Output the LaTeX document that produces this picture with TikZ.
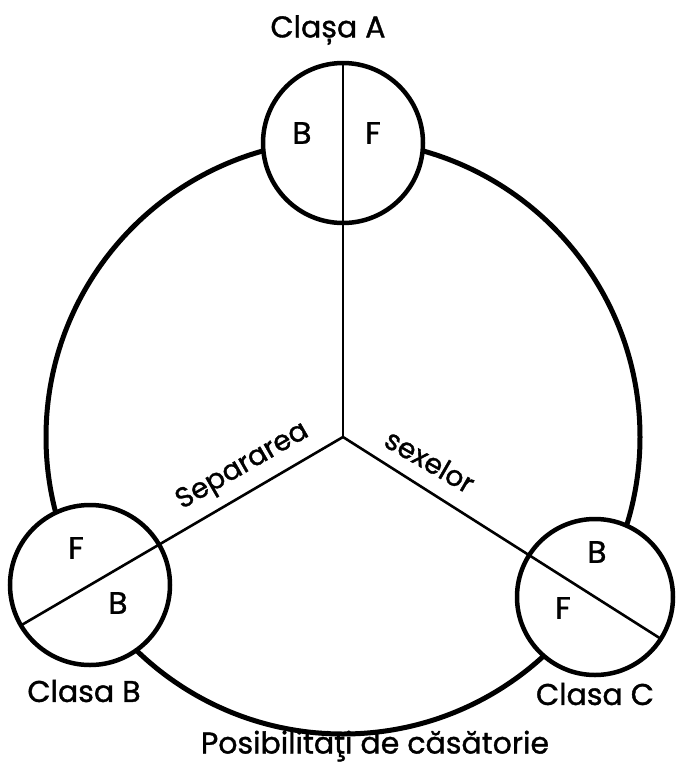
\documentclass[tikz,border=0pt]{standalone}
\usepackage{fontspec}
\setmainfont{Poppins}[FakeBold=1.2]
\usetikzlibrary{calc}
\begin{document}
\begin{tikzpicture}[x=1pt,y=-1pt,
  bigring/.style={line width=5pt},
  smallring/.style={line width=4.5pt, fill=white},
  divider/.style={line width=2.6pt},
  lbl/.style={font=\fontsize{30}{32}\selectfont, inner sep=0pt},
  sym/.style={font=\fontsize{31}{33}\selectfont, inner sep=0pt}]
\useasboundingbox (0,0) rectangle (678,764);
\fill[white] (0,0) rectangle (678,764);
\coordinate (o) at (343,437);
\coordinate (ac) at (343,143);
\coordinate (bc) at (90,585);
\coordinate (cc) at (595,597);
% big circle
\draw[bigring] (o) circle[radius=297];
% small circles
\draw[smallring] (ac) circle[radius=80];
\draw[smallring] (bc) circle[radius=80];
\draw[smallring] (cc) circle[radius=78];
% dividers
\coordinate (aend) at ($(ac)!-80pt!(o)$);
\coordinate (bend) at ($(bc)!-80pt!(o)$);
\coordinate (cend) at ($(cc)!-78pt!(o)$);
\draw[divider] (o) -- (aend);
\draw[divider] (o) -- (bend);
\draw[divider] (o) -- (cend);
% letters
\node[sym] (ab) at (302,133) {B};
\node[sym] (af) at (373,133) {F};
\node[sym] (bf) at (76,548) {F};
\node[sym] (bb) at (118,603) {B};
\node[sym] (cb) at (597,552) {B};
\node[sym] (cf) at (563,608) {F};
% labels
\node[lbl] (la) at (328,30) {Clașa A};
\node[lbl] (lb) at (84,691) {Clasa B};
\node[lbl] (lc) at (595,694) {Clasa C};
\node[lbl] (lp) at (375,746) {Posibilităţi de căsătorie};
\node[lbl, rotate=30, font=\fontsize{28}{30}\selectfont] (sep) at (243,467) {Separarea};
\node[lbl, rotate=-30, font=\fontsize{28}{30}\selectfont] (sex) at (430,461) {sexelor};
\end{tikzpicture}
\end{document}
